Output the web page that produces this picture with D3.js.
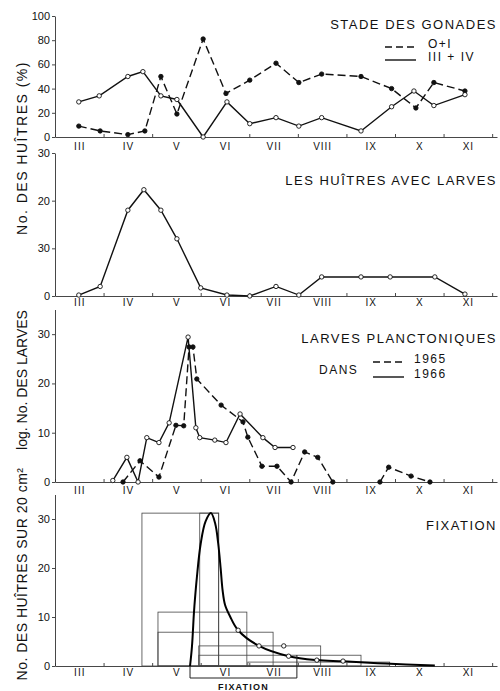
<!DOCTYPE html>
<html>
<head>
<meta charset="utf-8">
<script src="https://cdn.jsdelivr.net/npm/d3@7"></script>
<style>
  body { margin: 0; background: #fff; }
  text { font-family: "Liberation Sans", Arial, sans-serif; fill: #111; }
  .axis path, .axis line { stroke: #333; stroke-width: 0.9; }
</style>
</head>
<body>
<div id="chart"></div>
<script>
// month axis (III .. XI), values are month numbers (3 = start of March)
const monthLabels = ["III", "IV", "V", "VI", "VII", "VIII", "IX", "X", "XI"];
const monthStarts = [3, 4, 5, 6, 7, 8, 9, 10, 11, 12];

// panel 1 : stade des gonades (%)
const stageOI = [[3.49, 9], [3.93, 5], [4.50, 2], [4.85, 5], [5.18, 50], [5.51, 19], [6.05, 81],
  [6.52, 36], [7.01, 47], [7.55, 61], [8.02, 45], [8.49, 52], [9.30, 50], [9.93, 40],
  [10.43, 24], [10.80, 45], [11.44, 38]];
const stageIIIIV = [[3.49, 29], [3.91, 34], [4.50, 50], [4.81, 54], [5.18, 34], [5.51, 31], [6.05, 0],
  [6.54, 29], [7.01, 11], [7.55, 16], [8.02, 9], [8.49, 16], [9.30, 5], [9.93, 25],
  [10.39, 38], [10.80, 26], [11.44, 35]];
const gonadTicks = [0, 20, 40, 60, 80, 100];

// panel 2 : huitres avec larves
const withLarvae = [[3.49, 0.2], [3.93, 2], [4.50, 18], [4.83, 22.3], [5.18, 18], [5.51, 12],
  [6.00, 1.7], [6.54, 0.2], [7.01, 0], [7.55, 2], [8.02, 0.2], [8.49, 4], [9.30, 4],
  [9.90, 4], [10.82, 4], [11.44, 0.4]];
const larvaeTicks = [0, 10, 20, 30];
const larvaeTickLabels = ["0", "30", "20", "30"];   // as printed

// panel 3 : larves planctoniques
const plankton1965 = [[4.40, 0], [4.75, 4.3], [5.14, 1], [5.49, 11.5], [5.65, 11.4], [5.76, 27.4],
  [5.84, 27.4], [5.92, 20.9], [6.42, 15.6], [6.87, 12.2], [6.97, 9.1], [7.26, 3.2],
  [7.57, 3.2], [7.86, 0], [8.14, 6.1], [8.41, 5], [8.72, 0], null,
  [9.69, 0], [9.87, 3], [10.33, 1.2], [10.72, 0]];
const plankton1966 = [[4.19, 0.3], [4.48, 5], [4.71, 0], [4.89, 9], [5.14, 8], [5.35, 12],
  [5.74, 29.4], [5.90, 11], [5.98, 9], [6.29, 8.5], [6.52, 8], [6.81, 13.8], [7.28, 9],
  [7.53, 7], [7.90, 7]];
const countTicks = [0, 10, 20, 30];

// panel 4 : fixation
const fixRects = [[4.79, 6.37, 31.2], [5.98, 6.37, 31.2], [5.12, 6.95, 11], [5.12, 7.49, 6.9],
  [5.96, 8.47, 4.1], [5.96, 9.30, 2.2], [6.97, 9.89, 0.8]];
const fixCurve = [[5.78, 0], [5.82, 4], [5.86, 10.8], [5.88, 13.5], [5.92, 18], [6.0, 25], [6.1, 29.5],
  [6.21, 31.2], [6.3, 29], [6.36, 25], [6.41, 20], [6.45, 15.5], [6.5, 12.5], [6.6, 10.2],
  [6.77, 7.3], [7.2, 4.1], [7.81, 2.0], [8.39, 1.2], [8.93, 0.95], [9.8, 0.5], [10.82, 0.1]];
const fixPoints = [[6.77, 7.3], [7.2, 4.1], [7.71, 4.1], [7.81, 2.0], [8.39, 1.2], [8.93, 1.0]];
const fixPeriod = [5.78, 7.98];

const W = 500, H = 691;
const svg = d3.select("#chart").append("svg").attr("width", W).attr("height", H);

const x = d3.scaleLinear().domain([3, 12.1]).range([55, 497]);

const panels = [
  { y: d3.scaleLinear().domain([0, 100]).range([137, 16]), ticks: gonadTicks, pad: 6 },
  { y: d3.scaleLinear().domain([0, 30]).range([296, 153]), ticks: larvaeTicks, labels: larvaeTickLabels, pad: 3 },
  { y: d3.scaleLinear().domain([0, 35]).range([482, 309.5]), ticks: countTicks, pad: 5 },
  { y: d3.scaleLinear().domain([0, 35]).range([666, 494.5]), ticks: countTicks, pad: 3 }
];

// axes for every panel
panels.forEach(function(p) {
  const y0 = p.y(0);
  svg.append("g").attr("class", "axis")
    .attr("transform", "translate(0," + y0 + ")")
    .call(d3.axisBottom(x).tickValues(monthStarts).tickSize(-3).tickSizeOuter(0).tickFormat(""));
  const lab = svg.append("g").attr("class", "axis")
    .attr("transform", "translate(0," + y0 + ")")
    .call(d3.axisBottom(x).tickValues(monthStarts.slice(0, 9).map(function(m) { return m + 0.5; }))
      .tickSize(0).tickPadding(p.pad).tickFormat(function(d, i) { return monthLabels[i]; }));
  lab.select(".domain").remove();
  lab.selectAll("text").attr("font-size", 10).attr("letter-spacing", 1)
    .style("font-family", "Liberation Sans, Arial, sans-serif");

  svg.append("g").attr("class", "axis")
    .attr("transform", "translate(" + x(3) + ",0)")
    .call(d3.axisLeft(p.y).tickValues(p.ticks).tickSize(3).tickPadding(2).tickSizeOuter(0)
      .tickFormat(function(d, i) { return p.labels ? p.labels[i] : d; }))
    .selectAll("text").attr("font-size", 11).style("font-family", "Liberation Sans, Arial, sans-serif");
});

function drawLine(data, yScale, dashed, width) {
  svg.append("path")
    .datum(data)
    .attr("fill", "none")
    .attr("stroke", "#111")
    .attr("stroke-width", width || 1.4)
    .attr("stroke-dasharray", dashed ? "8,4" : null)
    .attr("d", d3.line()
      .defined(function(d) { return d !== null; })
      .x(function(d) { return x(d[0]); })
      .y(function(d) { return yScale(d[1]); }));
}

function drawDots(data, yScale, open) {
  svg.append("g").selectAll("circle")
    .data(data.filter(function(d) { return d !== null; }))
    .join("circle")
    .attr("cx", function(d) { return x(d[0]); })
    .attr("cy", function(d) { return yScale(d[1]); })
    .attr("r", 2.2)
    .attr("fill", open ? "#fff" : "#111")
    .attr("stroke", "#111")
    .attr("stroke-width", 0.9);
}

// panel 1
drawLine(stageOI, panels[0].y, true);
drawLine(stageIIIIV, panels[0].y, false);
drawDots(stageOI, panels[0].y, false);
drawDots(stageIIIIV, panels[0].y, true);

// panel 2
drawLine(withLarvae, panels[1].y, false);
drawDots(withLarvae, panels[1].y, true);

// panel 3
drawLine(plankton1965, panels[2].y, true);
drawLine(plankton1966, panels[2].y, false);
drawDots(plankton1965, panels[2].y, false);
drawDots(plankton1966, panels[2].y, true);

// panel 4
const y4 = panels[3].y;
svg.append("g").selectAll("rect")
  .data(fixRects)
  .join("rect")
  .attr("x", function(d) { return x(d[0]); })
  .attr("y", function(d) { return y4(d[2]); })
  .attr("width", function(d) { return x(d[1]) - x(d[0]); })
  .attr("height", function(d) { return y4(0) - y4(d[2]); })
  .attr("fill", "none")
  .attr("stroke", "#444")
  .attr("stroke-width", 0.8);

svg.append("path")
  .datum(fixCurve)
  .attr("fill", "none")
  .attr("stroke", "#000")
  .attr("stroke-width", 2)
  .attr("d", d3.line().curve(d3.curveCatmullRom.alpha(0.5))
    .x(function(d) { return x(d[0]); })
    .y(function(d) { return y4(d[1]); }));
drawDots(fixPoints, y4, true);

// fixation bracket under the axis
const by = y4(0);
svg.append("path")
  .attr("fill", "none").attr("stroke", "#222").attr("stroke-width", 1)
  .attr("d", "M" + x(fixPeriod[0]) + "," + by + "V" + (by + 12) + "H" + x(fixPeriod[1]) + "V" + (by - 11));
svg.append("text")
  .attr("x", (x(fixPeriod[0]) + x(fixPeriod[1])) / 2).attr("y", by + 24)
  .attr("text-anchor", "middle").attr("font-size", 9).attr("letter-spacing", 1.2)
  .attr("font-weight", "bold").text("FIXATION");

// titles
function title(txt, yy, size) {
  svg.append("text").attr("x", 497).attr("y", yy).attr("dy", "0.35em")
    .attr("text-anchor", "end").attr("font-size", size || 13).attr("letter-spacing", 1.5)
    .text(txt);
}
title("STADE DES GONADES", 24);
title("LES HUÎTRES AVEC LARVES", 180);
title("LARVES PLANCTONIQUES", 338);
title("FIXATION", 525, 13);

// legends
function legendLine(x0, x1, yy, dashed) {
  svg.append("line").attr("x1", x0).attr("x2", x1).attr("y1", yy).attr("y2", yy)
    .attr("stroke", "#111").attr("stroke-width", 1.4)
    .attr("stroke-dasharray", dashed ? "7,4" : null);
}
function legendText(txt, xx, yy, size) {
  svg.append("text").attr("x", xx).attr("y", yy).attr("dy", "0.35em")
    .attr("font-size", size || 12).attr("letter-spacing", 1.5).text(txt);
}
legendLine(385, 416, 47, true);
legendLine(385, 416, 60, false);
legendText("O+I", 428, 44);
legendText("III + IV", 428, 57);

legendLine(373, 404, 362, true);
legendLine(373, 404, 377, false);
legendText("1965", 414, 359, 12);
legendText("1966", 414, 374, 12);
legendText("DANS", 319, 370, 12);

// rotated y labels
function yLabel(txt, cy, spacing) {
  svg.append("text")
    .attr("transform", "translate(22," + cy + ") rotate(-90)")
    .attr("text-anchor", "middle").attr("dy", "0.35em")
    .attr("font-size", 14).attr("letter-spacing", spacing)
    .text(txt);
}
yLabel("No. DES HUÎTRES (%)", 148, 1.5);
yLabel("log. No. DES LARVES", 380, 0);
yLabel("No. DES HUÎTRES SUR 20 cm²", 574, 0.5);
</script>
</body>
</html>
